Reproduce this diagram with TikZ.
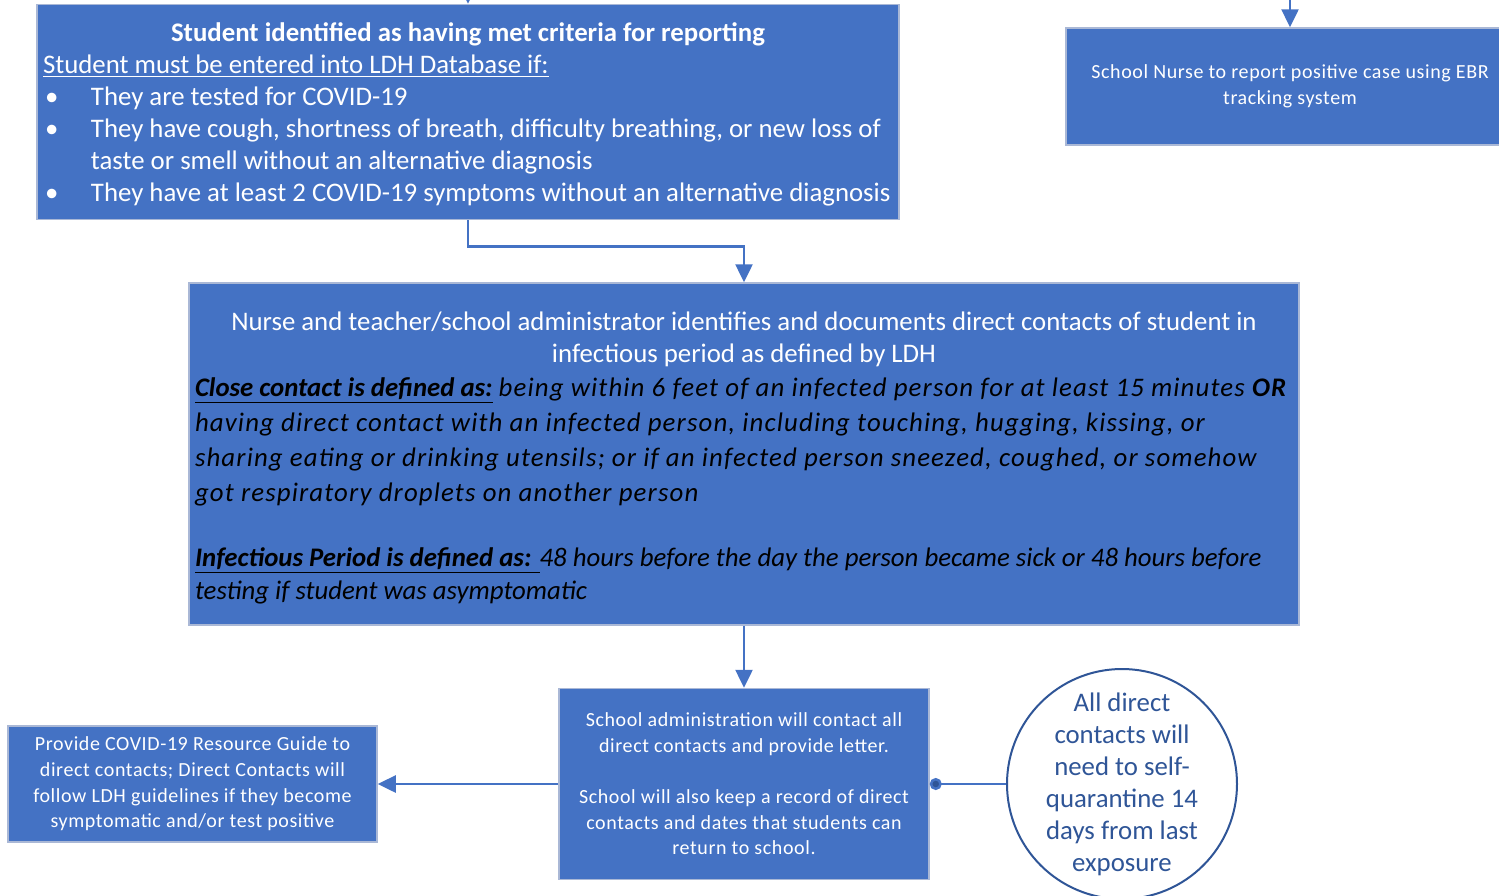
\documentclass[tikz,border=0pt]{standalone}
\usepackage{fontspec}
\setmainfont{Carlito}
\usepackage{tikz}
\usetikzlibrary{arrows.meta}
\usetikzlibrary{calc}
\definecolor{boxblue}{RGB}{68,114,196}
\definecolor{boxedge}{RGB}{170,184,214}
\definecolor{darkblue}{RGB}{47,85,151}
\newcommand{\spaced}{\addfontfeatures{LetterSpace=3}}
\newcommand{\defline}[1]{{\color{black}\itshape\fontsize{13.4}{17.5}\selectfont #1}}
\newcommand{\wideline}[1]{{\color{black}\itshape\fontsize{13.4}{17.5}\selectfont\addfontfeatures{LetterSpace=4.3}#1}}
\newcommand{\bul}{\makebox[24pt][l]{\hspace{1pt}\textbullet}}

\begin{document}
\begin{tikzpicture}[x=0.5pt, y=-0.5pt]
	\tikzstyle{box}=[rectangle, draw=boxedge, line width=0.75pt, fill=boxblue,
	                        text=white, inner sep=3pt, align=center];
	\tikzstyle{small}=[font=\fontsize{10}{12.8}\selectfont\spaced];
	\tikzstyle{arr}=[draw=boxblue, line width=1.25pt, -{Triangle[length=9pt, width=8.5pt]}];
	\tikzstyle{link}=[draw=boxblue, line width=1.25pt];
	\useasboundingbox (0,0) rectangle (1499,895);
	\clip (0,0) rectangle (1499,895);
	\node[box, minimum width=431pt, minimum height=107.5pt, align=left,
	      font=\fontsize{13.4}{16}\selectfont] (crit) at (468,112)
	{\rule{0pt}{12pt}\makebox[425pt][c]{\bfseries Student identified as having met criteria for reporting}\\
	 \underline{Student must be entered into LDH Database if:}\\
	 \bul They are tested for COVID-19\\
	 \bul They have cough, shortness of breath, difficulty breathing, or new loss of\\
	 \hspace*{24pt}taste or smell without an alternative diagnosis\\
	 \bul They have at least 2 COVID-19 symptoms without an alternative diagnosis};
	\node[box, small, minimum width=224pt, minimum height=58.5pt] (nurse) at (1290,86.5)
	{School Nurse to report positive case using EBR\\ tracking system};
	\node[box, minimum width=555pt, minimum height=171pt, align=left,
	      font=\fontsize{13.4}{17.5}\selectfont] (contacts) at (744,454)
	{\rule{0pt}{13.5pt}\makebox[549pt][c]{Nurse and teacher/school administrator identifies and documents direct contacts of student in}\\[-1.5pt]
	 \makebox[549pt][c]{infectious period as defined by LDH}\\[-0.5pt]
	 \defline{\underline{\textbf{Close contact is defined as:}} }\wideline{being within 6 feet of an infected person for at least 15 minutes \textbf{OR}}\\
	 \wideline{having direct contact with an infected person, including touching, hugging, kissing, or}\\
	 \wideline{sharing eating or drinking utensils; or if an infected person sneezed, coughed, or somehow}\\
	 \wideline{got respiratory droplets on another person}\\[15pt]
	 \defline{\underline{\textbf{Infectious Period is defined as: }}48 hours before the day the person became sick or 48 hours before}\\[-1pt]
	 \defline{testing if student was asymptomatic}};
	\node[box, small, minimum width=185pt, minimum height=95.5pt] (admin) at (744,784)
	{School administration will contact all\\ direct contacts and provide letter.\\[12.8pt]
	 School will also keep a record of direct\\ contacts and dates that students can\\ return to school.};
	\node[box, small, minimum width=184.5pt, minimum height=58pt] (guide) at (192.5,784)
	{Provide COVID-19 Resource Guide to\\ direct contacts; Direct Contacts will\\
	 follow LDH guidelines if they become\\ symptomatic and/or test positive};
	\node[circle, draw=darkblue, line width=1pt, fill=white, minimum size=115pt] (quar) at (1122,784) {};
	\node[text=darkblue, align=center, font=\fontsize{13.4}{16}\selectfont] (quartext) at (quar.center)
	{All direct\\ contacts will\\ need to self-\\ quarantine 14\\ days from last\\ exposure};
	\coordinate (critin) at (468,-30);
	\coordinate (nursein) at (1290,-30);
	\draw[arr] (critin) -- (crit.north);
	\draw[arr] (nursein) -- (nurse.north);
	\draw[arr] (crit.south) -- ++(0,26) -| (contacts.north);
	\draw[arr] (contacts.south) -- (admin.north);
	\draw[arr] (admin.west) -- (guide.east);
	\draw[link, {Circle[length=6pt, fill=darkblue]}-] (admin.east) -- (quar.west);
\end{tikzpicture}
\end{document}
